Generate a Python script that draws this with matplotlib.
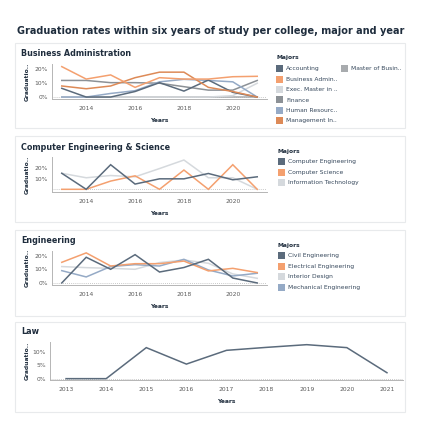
import matplotlib
matplotlib.use('Agg')
import matplotlib.pyplot as plt
from matplotlib.patches import Rectangle

# ---------------- data ----------------
years = [2013, 2014, 2015, 2016, 2017, 2018, 2019, 2020, 2021]

ba_majors = ["Accounting", "Business Admin..", "Exec. Master in ..", "Finance",
             "Human Resourc..", "Management In..", "Master of Busin.."]
ba_accounting = [6.3, 0, 0, 4, 10.4, 4.3, 12.3, 3.4, 0]
ba_business = [22, 13, 16, 7, 14, 13, 13, 14.7, 15]
ba_exec = [0, 0, 0, 0, 0, 0, 0, 1, 10]
ba_finance = [12, 12, 10.4, 10.4, 10, 7.5, 5, 5, 12]
ba_hr = [0, 0, 2.6, 4.6, 11, 12.8, 12, 11, 0]
ba_management = [8, 6, 8, 14, 18, 18, 7, 4, 0]
ba_master = [0, 0, 0, 0, 0, 0, 0, 0, 0]

ces_majors = ["Computer Engineering", "Computer Science", "Information Technology"]
ces_ce = [15, 0, 23, 4.9, 9.8, 9.8, 14.8, 8.9, 11.7]
ces_cs = [0, 0, 7.7, 12.6, 0, 18, 0, 23, 0]
ces_it = [15, 10.8, 12.9, 11.7, 19.4, 27.4, 10.8, 10.8, 0]

eng_majors = ["Civil Engineering", "Electrical Engineering", "Interior Design",
              "Mechanical Engineering"]
eng_civil = [0, 18.8, 10, 20.7, 8, 11.3, 17.3, 3.6, 0]
eng_electrical = [15.1, 22, 12.4, 14.1, 14.1, 16, 8.8, 10.7, 7.6]
eng_interior = [12, 11.2, 10.7, 10, 14.9, 16.8, 14.4, 6.6, 3.4]
eng_mechanical = [9, 4.4, 12, 13.4, 12.4, 17.3, 9.5, 5.1, 7.1]

law_values = [0, 0, 11.5, 5.4, 10.5, 11.6, 12.6, 11.5, 2.2]

# ---------------- style ----------------
C_SLATE = "#5b6b7c"
C_LORANGE = "#f4a06f"
C_LGRAY = "#d5d9dd"
C_GRAY = "#8c9196"
C_BLUE = "#95aac6"
C_DORANGE = "#dd8a57"
C_MGRAY = "#a8abae"
TXT = "#1f2d3d"
TICK = "#5a5a5a"

W = H = 423
fig = plt.figure(figsize=(4.23, 4.23), dpi=100)
fig.patch.set_facecolor("white")


def rect(x0, y0, x1, y1):
    return [x0 / W, 1 - y1 / H, (x1 - x0) / W, (y1 - y0) / H]


def fx(x):
    return x / W


def fy(y):
    return 1 - y / H


def card(y0, y1, x0=15, x1=405):
    fig.patches.append(Rectangle((fx(x0), fy(y1)), fx(x1) - fx(x0), fy(y0) - fy(y1),
                                 transform=fig.transFigure, facecolor="white",
                                 edgecolor="#e8eaec", lw=0.8, zorder=-5))


fig.text(fx(17), fy(30.5), "Graduation rates within six years of study per college, major and year",
         fontsize=7.0, fontweight="bold", color=TXT, va="center", ha="left")


def panel(title, title_y, box, ylim, yticks, series, colors, xticks, ylab_x=27):
    x0, y0, x1, y1 = box
    fig.text(fx(21), fy(title_y), title, fontsize=5.8, fontweight="bold", color=TXT,
             va="center", ha="left")
    ax = fig.add_axes(rect(x0, y0, x1, y1))
    ax.set_zorder(2)
    ax.patch.set_alpha(0)
    for vals, c in zip(series, colors):
        ax.plot(years, vals, color=c, lw=1.1, solid_joinstyle="miter")
    ax.axhline(0, color="#b8b8b8", lw=0.6, ls=(0, (1, 1.5)), zorder=0)
    ax.set_xlim(2012.6, 2021.4)
    ax.set_ylim(*ylim)
    ax.set_xticks(xticks)
    ax.set_xticklabels([str(t) for t in xticks])
    ax.set_yticks(yticks)
    ax.set_yticklabels([f"{t}%" for t in yticks])
    ax.tick_params(axis="both", length=0, labelsize=4.3, colors=TICK, pad=3)
    ax.tick_params(axis="x", pad=5)
    for s in ["top", "right"]:
        ax.spines[s].set_visible(False)
    for s in ["left", "bottom"]:
        ax.spines[s].set_color("#b5b5b5")
        ax.spines[s].set_linewidth(0.7)
    ax.set_xlabel("Years", fontsize=4.3, fontweight="bold", color=TXT, labelpad=5)
    fig.text(fx(ylab_x), fy((y0 + y1) / 2), "Graduatio..", rotation=90, fontsize=4.3,
             fontweight="bold", color=TXT, va="center", ha="center")
    return ax


def legend(x, title_y, labels, colors, dy=10.4):
    fig.text(fx(x), fy(title_y), "Majors", fontsize=4.3, fontweight="bold", color=TXT,
             va="center", ha="left")
    for i, (lab, c) in enumerate(zip(labels, colors)):
        yy = title_y + 10.8 + i * dy
        fig.patches.append(Rectangle((fx(x), fy(yy + 3.5)), 7 / W, 7 / H,
                                     transform=fig.transFigure, facecolor=c,
                                     edgecolor="none", zorder=3))
        fig.text(fx(x + 10), fy(yy), lab, fontsize=4.35, color="#34465a",
                 va="center", ha="left")


# Business Administration
card(43, 128)
ba_series = [ba_master, ba_exec, ba_finance, ba_hr, ba_accounting, ba_management, ba_business]
ba_colors = [C_MGRAY, C_LGRAY, C_GRAY, C_BLUE, C_SLATE, C_DORANGE, C_LORANGE]
panel("Business Administration", 53.5, (52, 64, 267, 98.7), (-1.2, 23.9), [0, 10, 20],
      ba_series, ba_colors, [2014, 2016, 2018, 2020])
legend(276, 58, ba_majors[:6], [C_SLATE, C_LORANGE, C_LGRAY, C_GRAY, C_BLUE, C_DORANGE])
fig.patches.append(Rectangle((fx(341), fy(68.8 + 3.5)), 7 / W, 7 / H,
                             transform=fig.transFigure, facecolor=C_MGRAY,
                             edgecolor="none", zorder=3))
fig.text(fx(351), fy(68.8), ba_majors[6], fontsize=4.35, color="#34465a",
         va="center", ha="left")

# Computer Engineering & Science
card(136, 222)
panel("Computer Engineering & Science", 147, (52, 156.7, 267, 192.3), (-2.8, 30.5), [10, 20],
      [ces_it, ces_cs, ces_ce], [C_LGRAY, C_LORANGE, C_SLATE], [2014, 2016, 2018, 2020])
legend(278, 151, ces_majors, [C_SLATE, C_LORANGE, C_LGRAY])

# Engineering
card(230, 316)
panel("Engineering", 240, (52, 250.7, 267, 285), (-1.5, 23.6), [0, 10, 20],
      [eng_interior, eng_mechanical, eng_electrical, eng_civil],
      [C_LGRAY, C_BLUE, C_LORANGE, C_SLATE], [2014, 2016, 2018, 2020])
legend(278, 245, eng_majors, [C_SLATE, C_LORANGE, C_LGRAY, C_BLUE])

# Law
card(322, 412)
panel("Law", 331, (50, 341.7, 403, 380), (-0.5, 13.7), [0, 5, 10],
      [law_values], [C_SLATE], years)

fig.savefig("out.png", dpi=100, facecolor="white")
